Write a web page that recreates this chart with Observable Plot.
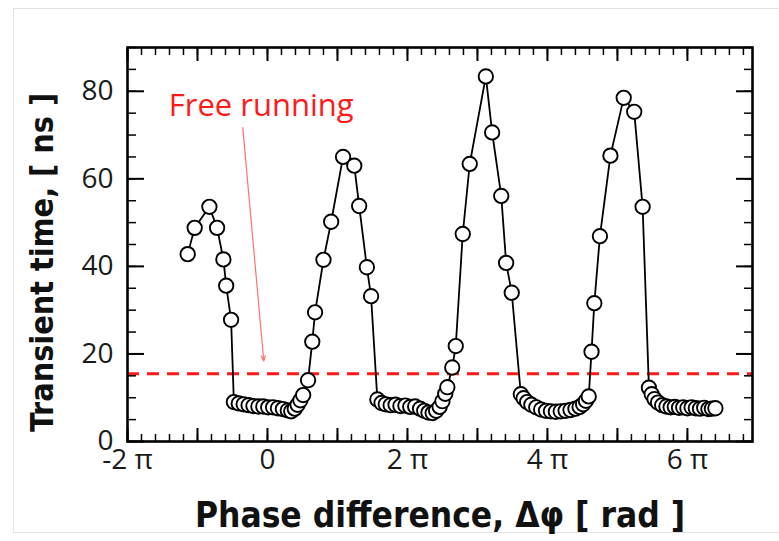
<!DOCTYPE html>
<html><head><meta charset="utf-8">
<script src="https://cdn.jsdelivr.net/npm/d3@7"></script>
<script src="https://cdn.jsdelivr.net/npm/@observablehq/plot@0.6"></script>
<style>
html,body{margin:0;padding:0;background:#fff;}
#wrap{position:relative;width:779px;height:541px;overflow:hidden;}
#box{position:absolute;left:13px;top:8px;width:790px;height:525px;border:1px solid #e2e2e2;box-sizing:border-box;}
#chart{position:absolute;left:0;top:0;}
</style></head><body>
<div id="wrap"><div id="box"></div><div id="chart"></div></div>
<script>
// Phase difference in units of pi, transient time in ns
const phase = [
  -1.14, -1.04, -0.83, -0.72, -0.63, -0.59, -0.52,
  -0.48, -0.41, -0.34, -0.27, -0.20, -0.13, -0.06, 0.01, 0.08, 0.15, 0.22, 0.29, 0.34, 0.39, 0.43, 0.47,
  0.51, 0.58, 0.64, 0.68, 0.80, 0.91, 1.08, 1.24, 1.31, 1.42, 1.48,
  1.57, 1.63, 1.69, 1.76, 1.83, 1.90, 1.97, 2.04, 2.11, 2.18, 2.24, 2.30, 2.36, 2.41, 2.46, 2.50,
  2.54, 2.57, 2.64, 2.69, 2.79, 2.89, 3.12, 3.21, 3.34, 3.41, 3.49,
  3.62, 3.66, 3.71, 3.77, 3.84, 3.91, 3.98, 4.05, 4.12, 4.19, 4.26, 4.33, 4.40, 4.46, 4.51, 4.55,
  4.59, 4.63, 4.67, 4.75, 4.90, 5.09, 5.24, 5.36,
  5.45, 5.49, 5.53, 5.58, 5.64, 5.70, 5.76, 5.82, 5.88, 5.94, 6.00, 6.06, 6.12, 6.18, 6.24, 6.30, 6.35, 6.40
];
const transient = [
  42.8, 48.8, 53.6, 48.8, 41.6, 35.6, 27.8,
  9.0, 8.7, 8.5, 8.3, 8.1, 8.0, 8.0, 7.8, 7.8, 7.6, 7.4, 7.1, 6.9, 7.5, 8.4, 9.4,
  10.6, 14.0, 22.8, 29.5, 41.5, 50.2, 65.0, 63.0, 53.8, 39.8, 33.2,
  9.6, 8.8, 8.5, 8.3, 8.4, 8.1, 8.2, 7.9, 8.0, 7.5, 7.0, 6.6, 6.5, 7.0, 7.9, 9.2,
  10.9, 12.4, 16.9, 21.8, 47.4, 63.4, 83.4, 70.6, 56.1, 40.8, 34.0,
  10.8, 9.9, 9.0, 8.4, 7.8, 7.3, 7.0, 6.9, 6.8, 6.9, 7.0, 7.2, 7.5, 7.9, 8.5, 9.3,
  10.3, 20.5, 31.6, 46.9, 65.3, 78.5, 75.3, 53.6,
  12.3, 10.8, 9.7, 8.9, 8.3, 8.0, 7.8, 7.9, 7.7, 7.8, 7.6, 7.8, 7.6, 7.5, 7.7, 7.4, 7.5, 7.6
];
const freeRunning = 15.5;
const xTickValues = [-2, 0, 2, 4, 6];
const xTickLabels = ["-2 \u03c0", "0", "2 \u03c0", "4 \u03c0", "6 \u03c0"];
const yTickValues = [0, 20, 40, 60, 80];
const xTitle = "Phase difference, \u0394\u03c6 [ rad ]";
const yTitle = "Transient time, [ ns ]";
const annotation = [{x: -1.41, y: 76.6, text: "Free running"}];
const arrow = [{x1: -0.353, y1: 71.7, x2: -0.053, y2: 18.4}];

const data = phase.map((x, i) => ({x, y: transient[i]}));
const xMajor = d3.range(-2, 7, 1);
const xMinor = d3.range(-10, 35).map(i => i / 5);
const yMajor = d3.range(0, 81, 20);
const yMinor = d3.range(0, 91, 5);

const tickFont = "'Open Sans', Lato, sans-serif";
const titleFont = "'DejaVu Sans Condensed', 'DejaVu Sans', sans-serif";

const chart = Plot.plot({
  width: 779, height: 541,
  marginLeft: 127, marginRight: 27, marginTop: 47, marginBottom: 100,
  style: {background: "transparent", overflow: "visible"},
  x: {domain: [-2, 6.93]},
  y: {domain: [0, 90]},
  marks: [
    Plot.ruleY([freeRunning], {stroke: "#ff1a1a", strokeWidth: 3, strokeDasharray: "12,8"}),
    Plot.line(data, {x: "x", y: "y", stroke: "black", strokeWidth: 1.8}),
    Plot.dot(data, {x: "x", y: "y", r: 7.2, fill: "white", stroke: "black", strokeWidth: 1.9}),
    Plot.arrow(arrow, {x1: "x1", y1: "y1", x2: "x2", y2: "y2", stroke: "#ff7070", strokeWidth: 1.2, headLength: 7, headAngle: 45}),
    Plot.text(annotation, {x: "x", y: "y", text: "text", textAnchor: "start", fill: "#ff1a1a", fontSize: 31, fontFamily: tickFont}),
    // ticks (inward)
    Plot.axisX(xMinor, {anchor: "bottom", tickSize: -7, text: null, label: null, strokeWidth: 1.5}),
    Plot.axisX(xMajor, {anchor: "bottom", tickSize: -13, text: null, label: null, strokeWidth: 2}),
    Plot.axisX(xMinor, {anchor: "top", tickSize: -7, text: null, label: null, strokeWidth: 1.5}),
    Plot.axisX(xMajor, {anchor: "top", tickSize: -13, text: null, label: null, strokeWidth: 2}),
    Plot.axisY(yMinor, {anchor: "left", tickSize: -9, text: null, label: null, strokeWidth: 1.5}),
    Plot.axisY(yMajor, {anchor: "left", tickSize: -17, text: null, label: null, strokeWidth: 2}),
    Plot.axisY(yMinor, {anchor: "right", tickSize: -9, text: null, label: null, strokeWidth: 1.5}),
    Plot.axisY(yMajor, {anchor: "right", tickSize: -17, text: null, label: null, strokeWidth: 2}),
    // tick labels
    Plot.axisX(xTickValues, {anchor: "bottom", tickSize: 0, tickPadding: 8, label: null,
      tickFormat: d => xTickLabels[xTickValues.indexOf(d)], fontSize: 28, fontFamily: tickFont, fill: "#1a1a1a"}),
    Plot.axisY(yTickValues, {anchor: "left", tickSize: 0, tickPadding: 14, label: null,
      fontSize: 28, fontFamily: tickFont, fill: "#1a1a1a"}),
    Plot.frame({stroke: "black", strokeWidth: 2.6}),
    // titles
    Plot.text([xTitle], {frameAnchor: "bottom", dy: 74, lineAnchor: "middle", fontSize: 35, fontWeight: "bold", fontFamily: titleFont, fill: "#111"}),
    Plot.text([yTitle], {frameAnchor: "left", dx: -85, dy: 18, rotate: -90, textAnchor: "middle", lineAnchor: "middle", fontSize: 32, fontWeight: "bold", fontFamily: titleFont, fill: "#111"})
  ]
});
document.getElementById("chart").appendChild(chart);
</script></body></html>
